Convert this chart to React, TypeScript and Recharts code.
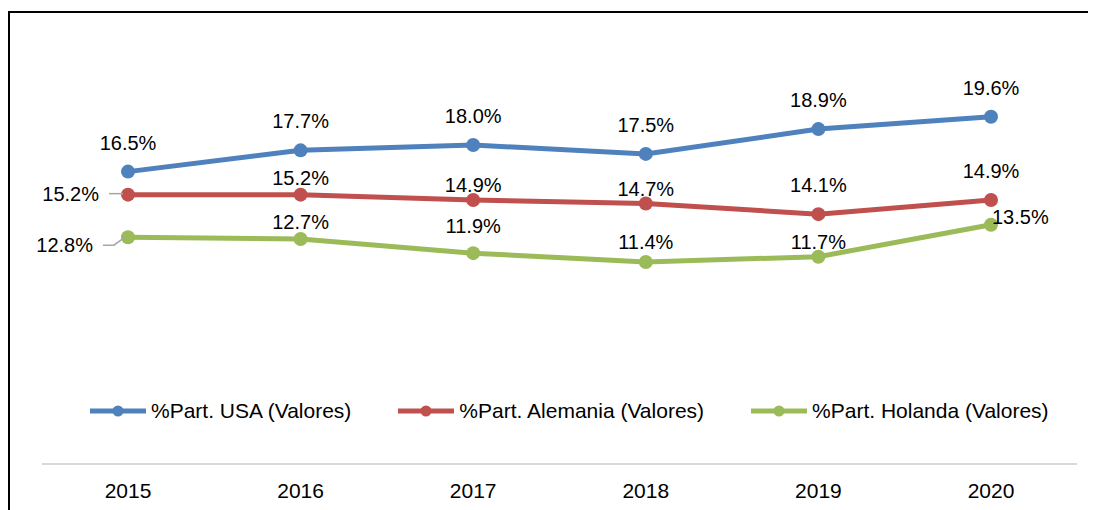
import { LineChart, Line, XAxis, YAxis, Legend } from "recharts";

const years = ["2015", "2016", "2017", "2018", "2019", "2020"];
const usa = [16.5, 17.7, 18.0, 17.5, 18.9, 19.6];
const alemania = [15.2, 15.2, 14.9, 14.7, 14.1, 14.9];
const holanda = [12.8, 12.7, 11.9, 11.4, 11.7, 13.5];

const seriesNames = {
  usa: "%Part. USA (Valores)",
  alemania: "%Part. Alemania (Valores)",
  holanda: "%Part. Holanda (Valores)",
};

const colors = { usa: "#4F81BD", alemania: "#C0504D", holanda: "#9BBB59" };

const data = years.map((year, i) => ({
  year,
  usa: usa[i],
  alemania: alemania[i],
  holanda: holanda[i],
}));

const FONT = "'Liberation Sans', Arial, sans-serif";

// vertical shift of each data label's baseline relative to its point
const labelDy: Record<string, number[]> = {
  usa: [-22, -22, -22, -22, -22, -22],
  alemania: [6, -10, -8, -8, -22, -22],
  holanda: [15, -10, -20, -13, -8, -1],
};

function makeLabel(key: "usa" | "alemania" | "holanda") {
  return (props: any) => {
    const { x, y, value, index } = props;
    const text = `${Number(value).toFixed(1)}%`;
    const dy = labelDy[key][index];
    const common = { fontFamily: FONT, fontSize: 20, fill: "#000" };
    if (index === 0 && key === "alemania") {
      return (
        <g>
          <line x1={x - 19} y1={y - 1} x2={x - 5} y2={y - 1} stroke="#a6a6a6" strokeWidth={1.5} />
          <text x={x - 29} y={y + dy} textAnchor="end" {...common}>{text}</text>
        </g>
      );
    }
    if (index === 0 && key === "holanda") {
      return (
        <g>
          <polyline
            points={`${x - 25},${y + 8} ${x - 14},${y + 8} ${x - 3},${y}`}
            fill="none"
            stroke="#a6a6a6"
            strokeWidth={1.5}
          />
          <text x={x - 35} y={y + dy} textAnchor="end" {...common}>{text}</text>
        </g>
      );
    }
    if (key === "holanda" && index === years.length - 1) {
      return <text x={x + 1} y={y + dy} textAnchor="start" {...common}>{text}</text>;
    }
    return <text x={x} y={y + dy} textAnchor="middle" {...common}>{text}</text>;
  };
}

function LegendContent() {
  const keys: ("usa" | "alemania" | "holanda")[] = ["usa", "alemania", "holanda"];
  return (
    <div style={{ display: "flex", gap: 47, paddingLeft: 82, alignItems: "center" }}>
      {keys.map((k) => (
        <div key={k} style={{ display: "flex", alignItems: "center" }}>
          <svg width={56} height={14} style={{ marginRight: 5 }}>
            <line x1={0} y1={7} x2={56} y2={7} stroke={colors[k]} strokeWidth={5} strokeLinecap="round" />
            <circle cx={28} cy={7} r={5.5} fill={colors[k]} />
          </svg>
          <span style={{ fontFamily: FONT, fontSize: 21, color: "#000", whiteSpace: "nowrap" }}>
            {seriesNames[k]}
          </span>
        </div>
      ))}
    </div>
  );
}

export default function App() {
  return (
    <div style={{ position: "relative", width: 1100, height: 502, overflow: "hidden", background: "#fff" }}>
      <style>{"html,body{overflow:hidden}"}</style>
      <div
        style={{
          position: "absolute",
          left: 0,
          top: 3,
          width: 1200,
          height: 600,
          borderLeft: "2px solid #000",
          borderTop: "2px solid #000",
        }}
      />
      <div style={{ position: "absolute", left: 0, top: 0 }}>
        <LineChart width={1080} height={494} data={data} margin={{ top: 13, right: 11, left: 34, bottom: 0 }}>
          <XAxis
            dataKey="year"
            height={38}
            padding={{ left: 86, right: 86 }}
            axisLine={{ stroke: "#d9d9d9", strokeWidth: 2 }}
            tickLine={false}
            tickSize={0}
            tickMargin={19}
            tick={{ fontFamily: FONT, fontSize: 21, fill: "#000" }}
          />
          <YAxis hide domain={[0, 25]} />
          <Legend
            layout="horizontal"
            verticalAlign="middle"
            content={() => <LegendContent />}
            wrapperStyle={{ top: 391, left: 0, width: 1080 }}
          />
          {(["usa", "alemania", "holanda"] as const).map((k) => (
            <Line
              key={k}
              dataKey={k}
              name={seriesNames[k]}
              stroke={colors[k]}
              strokeWidth={5}
              dot={{ r: 7, fill: colors[k], stroke: colors[k], strokeWidth: 0 }}
              activeDot={false}
              isAnimationActive={false}
              label={makeLabel(k)}
            />
          ))}
        </LineChart>
      </div>
    </div>
  );
}
